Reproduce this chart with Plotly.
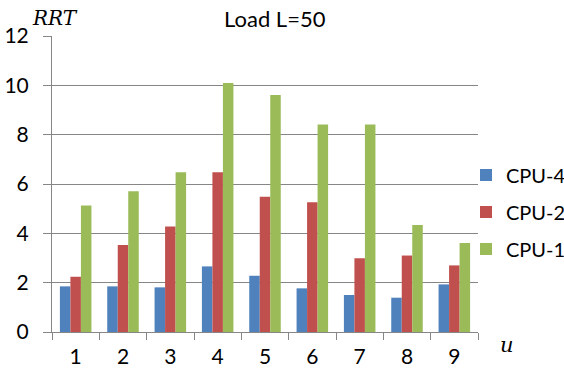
import plotly.graph_objects as go

# Relative response time per configuration u, for three CPU counts
categories = ["1", "2", "3", "4", "5", "6", "7", "8", "9"]
cpu4 = [1.85, 1.85, 1.81, 2.66, 2.28, 1.77, 1.50, 1.39, 1.93]
cpu2 = [2.24, 3.53, 4.28, 6.48, 5.48, 5.26, 2.99, 3.10, 2.70]
cpu1 = [5.13, 5.71, 6.48, 10.09, 9.61, 8.41, 8.41, 4.34, 3.61]
series_names = ["CPU-4", "CPU-2", "CPU-1"]
series_colors = ["#4F81BD", "#C0504D", "#9BBB59"]
y_ticks = [0, 2, 4, 6, 8, 10, 12]

FONT = "Lato"
W, H = 564, 374
L, R, T, B = 52, 86, 36, 42
PW, PH = W - L - R, H - T - B

fig = go.Figure()
for name, vals, col in zip(series_names, [cpu4, cpu2, cpu1], series_colors):
    fig.add_trace(go.Bar(
        x=categories, y=vals, name=name, legendgroup=name,
        marker=dict(color=col, line=dict(width=0)),
    ))

fig.update_layout(
    width=W, height=H,
    margin=dict(l=L, r=R, t=T, b=B, autoexpand=False),
    paper_bgcolor="white", plot_bgcolor="white",
    barmode="group", bargap=0.334, bargroupgap=0,
    font=dict(family=FONT, size=20, color="black"),
    showlegend=True,
    legend=dict(x=(466 - L) / PW, xanchor="left",
                y=1 - (212 - T) / PH, yanchor="middle",
                font=dict(size=20), tracegroupgap=8,
                itemwidth=30, bgcolor="rgba(0,0,0,0)"),
    xaxis=dict(type="category", tickson="boundaries", ticks="outside",
               ticklen=7, tickcolor="#868686", showline=True,
               linecolor="#868686", linewidth=1, showgrid=False,
               tickfont=dict(size=21), ticklabelstandoff=6),
    yaxis=dict(range=[0, 12], tickvals=y_ticks, ticks="outside",
               ticklen=8, tickcolor="#868686", showline=True,
               linecolor="#868686", linewidth=1, showgrid=True,
               gridcolor="#868686", gridwidth=1, zeroline=False,
               tickfont=dict(size=21), ticklabelstandoff=10),
)

# Free-standing labels, given in page pixels and mapped to paper coordinates
labels = [
    ("Load L=50", 275, 19, FONT, 22),
    ("<i>RRT</i>", 55, 18, "DejaVu Serif", 20),
    ("<i>u</i>", 507, 345, "DejaVu Serif", 21),
]
for text, px, py, fam, size in labels:
    fig.add_annotation(
        text=text, showarrow=False, xref="paper", yref="paper",
        x=(px - L) / PW, y=1 - (py - T) / PH,
        xanchor="center", yanchor="middle",
        font=dict(family=fam, size=size, color="black"),
    )

fig.write_html("out.html")
